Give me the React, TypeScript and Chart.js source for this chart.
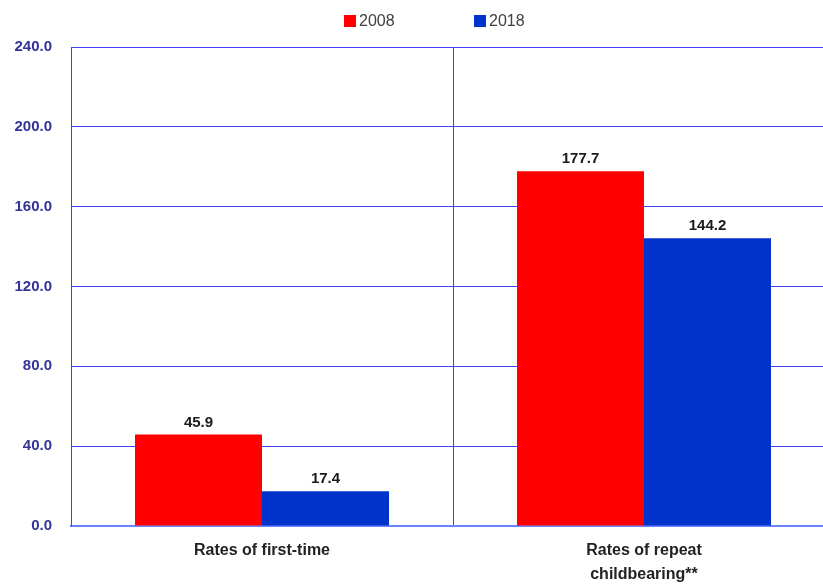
import React, { useEffect, useLayoutEffect, useRef } from "react";
import { Chart, registerables } from "chart.js";

Chart.register(...registerables);

const categories: string[][] = [["Rates of first-time"], ["Rates of repeat", "childbearing**"]];
const seriesNames = ["2008", "2018"];
const values2008 = [45.9, 177.7];
const values2018 = [17.4, 144.2];
const seriesColors = ["#FF0000", "#0033CC"];
const yMin = 0;
const yMax = 240;
const yStep = 40;

const FONT = "'Liberation Sans', Arial, sans-serif";

const valueLabelPlugin = {
  id: "valueLabels",
  afterDatasetsDraw(chart: any) {
    const ctx = chart.ctx;
    ctx.save();
    ctx.font = `bold 15px ${FONT}`;
    ctx.fillStyle = "#1A1A1A";
    ctx.textAlign = "center";
    ctx.textBaseline = "middle";
    chart.data.datasets.forEach((ds: any, i: number) => {
      const meta = chart.getDatasetMeta(i);
      meta.data.forEach((bar: any, j: number) => {
        const v = ds.data[j];
        ctx.fillText(v.toFixed(1), bar.x, bar.y - 12);
      });
    });
    ctx.restore();
  },
};

const legendPlugin = {
  id: "customLegend",
  afterDraw(chart: any) {
    const ctx = chart.ctx;
    const ca = chart.chartArea;
    const cx = (ca.left + ca.right) / 2;
    const starts = [cx - 109, cx + 21];
    ctx.save();
    ctx.font = `16px ${FONT}`;
    ctx.textBaseline = "middle";
    ctx.textAlign = "left";
    chart.data.datasets.forEach((ds: any, i: number) => {
      const x = starts[i];
      ctx.fillStyle = ds.backgroundColor;
      ctx.fillRect(x, 7, 12, 12);
      ctx.fillStyle = "#404040";
      ctx.fillText(ds.label, x + 15, 14);
    });
    ctx.restore();
  },
};

export default function App() {
  const ref = useRef<HTMLCanvasElement | null>(null);

  useLayoutEffect(() => {
    const prev = document.body.style.margin;
    document.body.style.margin = "0";
    return () => {
      document.body.style.margin = prev;
    };
  }, []);

  useEffect(() => {
    if (!ref.current) return;
    const chart = new Chart(ref.current, {
      type: "bar",
      data: {
        labels: categories,
        datasets: [
          {
            label: seriesNames[0],
            data: values2008,
            backgroundColor: seriesColors[0],
            categoryPercentage: 0.665,
            barPercentage: 1,
          },
          {
            label: seriesNames[1],
            data: values2018,
            backgroundColor: seriesColors[1],
            categoryPercentage: 0.665,
            barPercentage: 1,
          },
        ],
      },
      options: {
        animation: false,
        responsive: false,
        maintainAspectRatio: false,
        layout: { padding: { top: 39, right: 3, left: 0, bottom: 0 } },
        plugins: {
          legend: { display: false },
          tooltip: { enabled: false },
          title: { display: false },
        },
        scales: {
          x: {
            grid: {
              display: true,
              color: "#3F3FFF",
              lineWidth: 1,
              drawTicks: false,
              offset: true,
            },
            border: { display: true, color: "#6C84FF", width: 2 },
            ticks: {
              color: "#222222",
              font: { family: FONT, size: 16, weight: "bold", lineHeight: 1.5 },
              padding: 13,
              maxRotation: 0,
              autoSkip: false,
            },
            afterFit(scale: any) {
              scale.height = 61;
            },
          },
          y: {
            min: yMin,
            max: yMax,
            grid: {
              color: "#3F3FFF",
              lineWidth: 1,
              drawTicks: false,
            },
            border: { display: true, color: "#3F3FFF", width: 1 },
            ticks: {
              stepSize: yStep,
              color: "#333399",
              font: { family: FONT, size: 15, weight: "bold" },
              padding: 19,
              callback: (v: any) => Number(v).toFixed(1),
            },
            afterFit(scale: any) {
              scale.width = 63;
            },
          },
        },
      },
      plugins: [valueLabelPlugin, legendPlugin],
    });
    return () => chart.destroy();
  }, []);

  return (
    <div
      style={{
        width: 823,
        height: 587,
        paddingTop: 8,
        paddingLeft: 8,
        boxSizing: "border-box",
        overflow: "hidden",
      }}
    >
      <canvas ref={ref} width={830} height={579} style={{ display: "block", width: 830, height: 579 }} />
    </div>
  );
}
